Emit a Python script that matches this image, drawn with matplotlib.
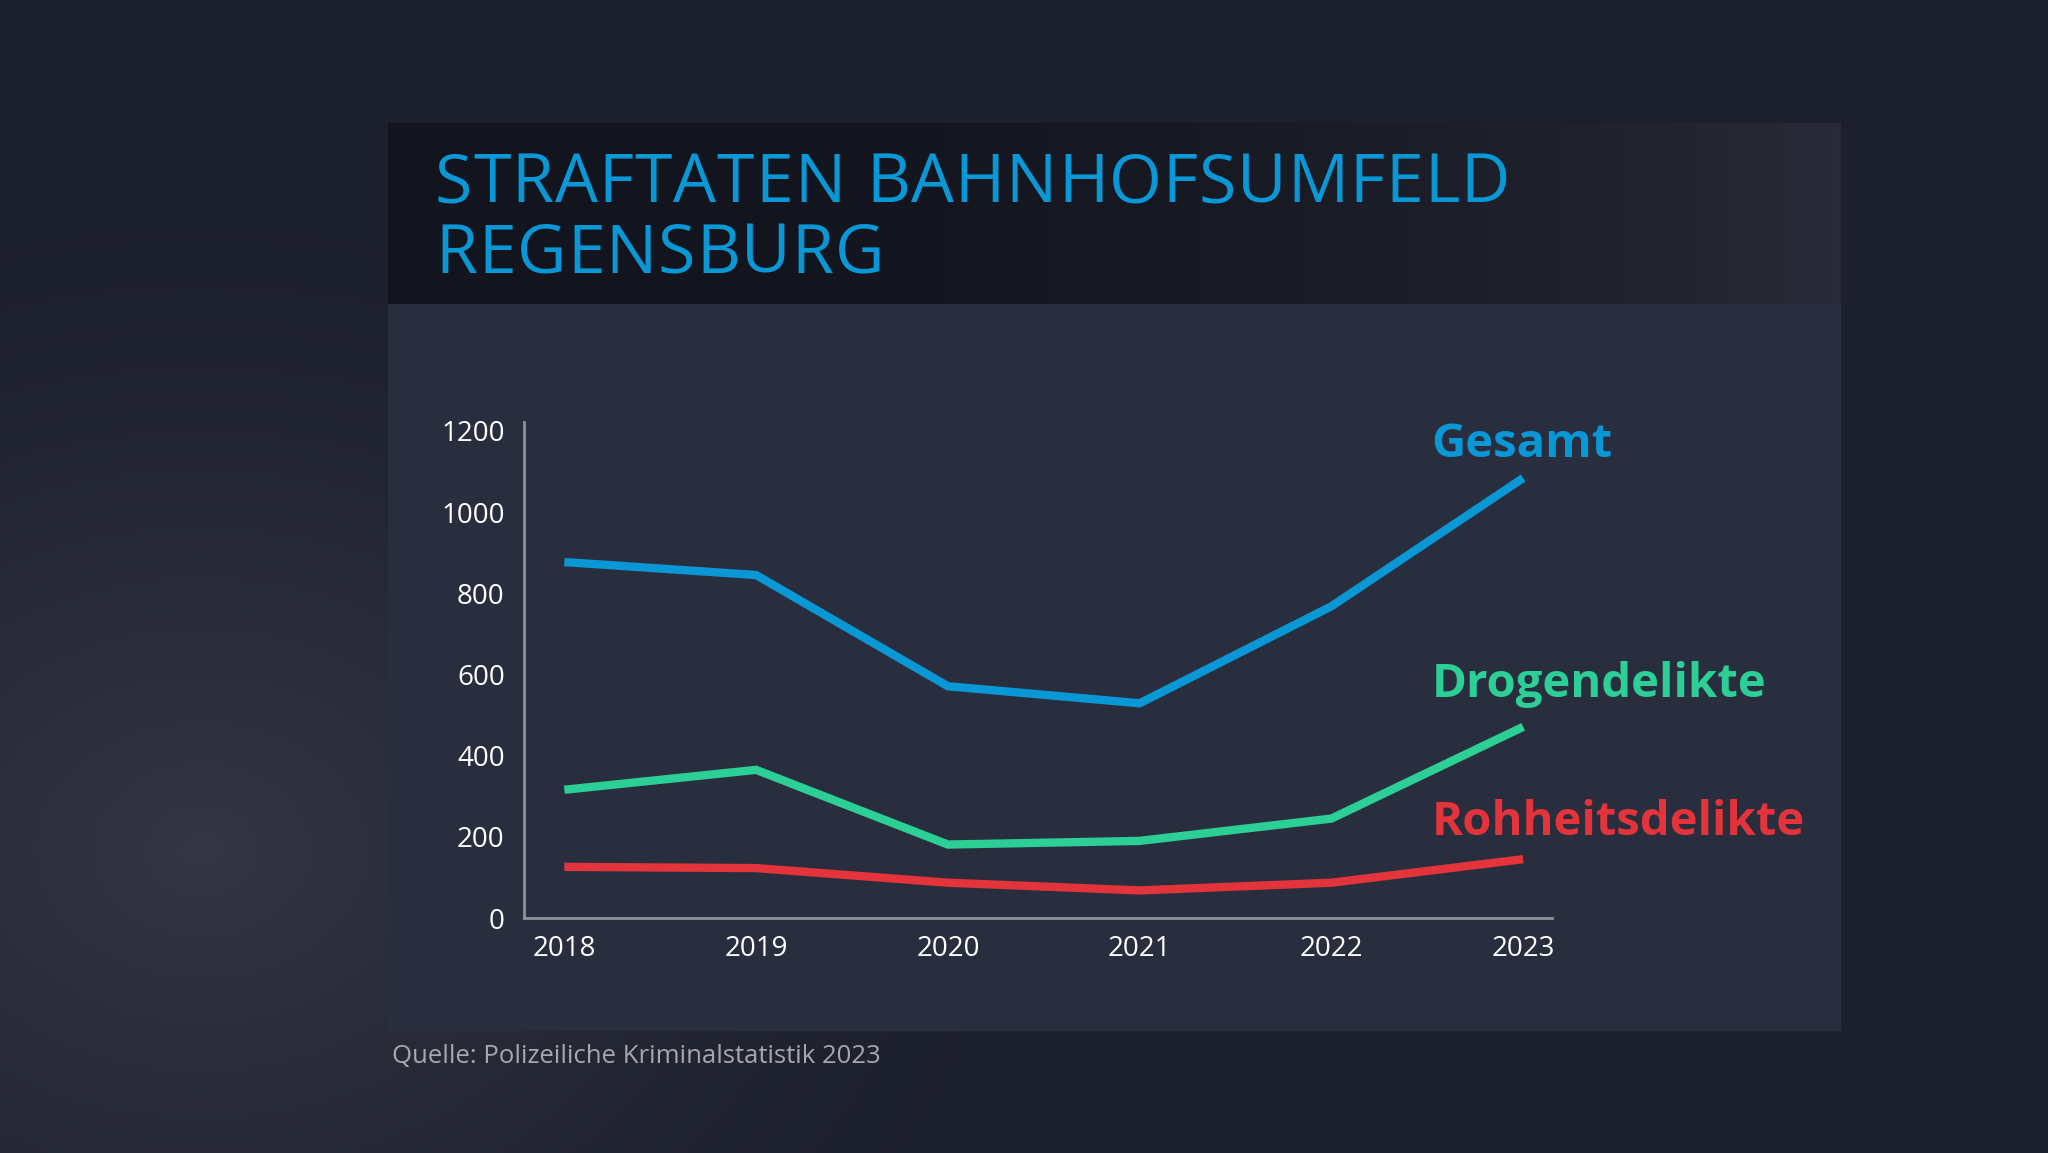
import matplotlib
matplotlib.use("Agg")
import matplotlib.pyplot as plt
import numpy as np
from matplotlib.patches import Rectangle

# data
years = [2018, 2019, 2020, 2021, 2022, 2023]
gesamt = [877, 845, 571, 529, 768, 1084]
drogen = [316, 365, 181, 190, 245, 471]
rohheit = [126, 123, 87, 68, 87, 145]
yticks = [0, 200, 400, 600, 800, 1000, 1200]
title_lines = ["STRAFTATEN BAHNHOFSUMFELD", "REGENSBURG"]
source = "Quelle: Polizeiliche Kriminalstatistik 2023"

blue = "#0a97d6"
green = "#2ccf95"
red = "#e2343a"

plt.rcParams["font.family"] = ["Open Sans", "DejaVu Sans"]
title_font = ["Liberation Sans Narrow", "Open Sans", "DejaVu Sans"]

fig = plt.figure(figsize=(20.48, 11.53), dpi=100)
W, H = 2048, 1153

# background with soft glow bottom-left
bg = fig.add_axes([0, 0, 1, 1])
bg.set_axis_off()
yy, xx = np.mgrid[0:H:4, 0:W:4]
d = np.sqrt(((xx - 200) / 900.0) ** 2 + ((yy - 850) / 700.0) ** 2)
glow = np.clip(1 - d, 0, 1) ** 1.5
base = np.array([0x1c, 0x1f, 0x2c]) / 255.0
light = np.array([0x34, 0x37, 0x43]) / 255.0
img = base[None, None, :] + glow[..., None] * (light - base)[None, None, :]
bg.imshow(img, extent=[0, 1, 0, 1], aspect="auto", zorder=0)
bg.set_xlim(0, 1)
bg.set_ylim(0, 1)

# panel
px0, px1 = 0.1894, 0.8986
ptop, pmid, pbot = 0.8924, 0.7361, 0.1065
bg.add_patch(Rectangle((px0, pbot), px1 - px0, pmid - pbot, color="#292e3e", zorder=1))
band = np.linspace(0, 1, 200) ** 2.5
c0 = np.array([0x12, 0x15, 0x1d]) / 255.0
c1 = np.array([0x28, 0x2b, 0x37]) / 255.0
band_img = c0[None, None, :] + band[None, :, None] * (c1 - c0)[None, None, :]
bg.imshow(band_img, extent=[px0, px1, pmid, ptop], aspect="auto", zorder=1)

# title with letter spacing
fig.canvas.draw()
renderer = fig.canvas.get_renderer()
target_w = 1075 / W
baselines = [0.8245, 0.7633]
tx0 = 0.2124
tsize = 49
spacing = None
for i, line in enumerate(title_lines):
    widths = []
    for ch in line:
        t = fig.text(0, 0, ch if ch != " " else "I", fontsize=tsize, family=title_font)
        bb = t.get_window_extent(renderer)
        widths.append((bb.width if ch != " " else bb.width * 1.0) / W)
        t.remove()
    if spacing is None:
        spacing = (target_w - sum(widths)) / (len(line) - 1)
    x = tx0
    for ch, w in zip(line, widths):
        if ch != " ":
            fig.text(x, baselines[i], ch, fontsize=tsize, color=blue, family=title_font,
                     va="baseline", ha="left")
        x += w + spacing

# chart
ax = fig.add_axes([0.2559, 0.2038, 0.7578 - 0.2559, 0.634 - 0.2038])
ax.patch.set_alpha(0)
ax.plot(years, gesamt, color=blue, lw=6, solid_joinstyle="miter", solid_capstyle="butt")
ax.plot(years, drogen, color=green, lw=6, solid_joinstyle="miter", solid_capstyle="butt")
ax.plot(years, rohheit, color=red, lw=6, solid_joinstyle="miter", solid_capstyle="butt")
ax.set_xlim(2018 - 0.21, 2023.15)
ax.set_ylim(0, 1222)
ax.set_xticks(years)
ax.set_yticks(yticks)
ax.tick_params(length=0, labelsize=20, colors="white")
ax.tick_params(axis="x", pad=12)
ax.tick_params(axis="y", pad=14)
for s in ["top", "right"]:
    ax.spines[s].set_visible(False)
for s in ["left", "bottom"]:
    ax.spines[s].set_color("#8d919b")
    ax.spines[s].set_linewidth(2)

# series labels
fig.text(0.699, 0.6037, "Gesamt", color=blue, fontsize=34, fontweight="bold", va="baseline")
fig.text(0.699, 0.3953, "Drogendelikte", color=green, fontsize=34, fontweight="bold", va="baseline")
fig.text(0.699, 0.2755, "Rohheitsdelikte", color=red, fontsize=34, fontweight="bold", va="baseline")

fig.text(0.1913, 0.078, source, color="#a5a8b0", fontsize=18.5, va="baseline")

fig.savefig("out.png", dpi=100)
